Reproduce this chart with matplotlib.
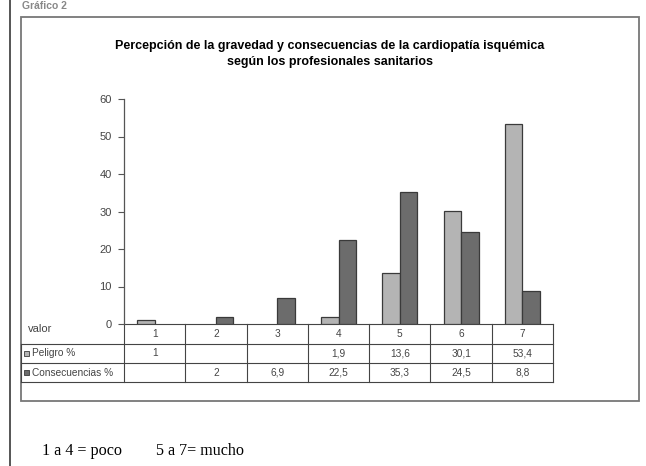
import numpy as np
import matplotlib
matplotlib.use("Agg")
import matplotlib.pyplot as plt
from matplotlib.patches import Rectangle

categorias = ["1", "2", "3", "4", "5", "6", "7"]
peligro = [1, None, None, 1.9, 13.6, 30.1, 53.4]
consecuencias = [None, 2, 6.9, 22.5, 35.3, 24.5, 8.8]
series_labels = ["Peligro %", "Consecuencias %"]
yticks = [0, 10, 20, 30, 40, 50, 60]

titulo = ("Percepción de la gravedad y consecuencias de la cardiopatía isquémica\n"
          "según los profesionales sanitarios")
nota_1 = "1 a 4 = poco"
nota_2 = "5 a 7= mucho"

COL_LIGHT = "#b4b4b4"
COL_DARK = "#6c6c6c"
EDGE = "#3a3a3a"
TXT = "#444444"

W, H = 646, 466
fig = plt.figure(figsize=(W / 100, H / 100), dpi=100)
fig.patch.set_facecolor("white")


def fx(px):
    return px / W


def fy(py):
    return 1 - py / H


# main axes: x 124..553, y (60 -> 99 px, 0 -> 324 px)
ax_l, ax_r, ax_t, ax_b = 124, 553, 99, 324
ax = fig.add_axes([fx(ax_l), fy(ax_b), fx(ax_r - ax_l), (ax_b - ax_t) / H])
ax.set_facecolor("none")

x = np.arange(len(categorias))
bw = 0.285
p_vals = np.array([np.nan if v is None else v for v in peligro], dtype=float)
c_vals = np.array([np.nan if v is None else v for v in consecuencias], dtype=float)
ax.bar(x - bw / 2, p_vals, bw, color=COL_LIGHT, edgecolor=EDGE, linewidth=0.9)
ax.bar(x + bw / 2, c_vals, bw, color=COL_DARK, edgecolor=EDGE, linewidth=0.9)

ax.set_xlim(-0.5, len(categorias) - 0.5)
ax.set_ylim(0, 60)
ax.set_yticks(yticks)
ax.set_yticklabels([str(t) for t in yticks], fontsize=8, color=TXT,
                   family="Liberation Sans")
ax.tick_params(axis="y", length=4, width=0.8, color="#555555", pad=5)
ax.set_xticks([])
for s in ["top", "right", "bottom"]:
    ax.spines[s].set_visible(False)
ax.spines["left"].set_color("#555555")
ax.spines["left"].set_linewidth(0.9)

# overlay in pixel coordinates for frame, table and notes
ov = fig.add_axes([0, 0, 1, 1])
ov.set_xlim(0, W)
ov.set_ylim(H, 0)
ov.axis("off")
ov.set_zorder(-1)

# outer page line and inner chart frame
ov.plot([9.5, 9.5], [0, H], color="#555555", lw=1.4)
ov.add_patch(Rectangle((21, 16.5), 618, 384.5, fill=False,
                       edgecolor="#777777", lw=1.3))
ov.text(22, 1, "Gráfico 2", fontsize=7.5, color="#888888", va="top",
        family="Liberation Sans", fontweight="bold")

ov.text(330, 54, titulo, ha="center", va="center", fontsize=9,
        fontweight="bold", family="Liberation Sans", linespacing=1.35)

# data table below the axis
ncol = len(categorias)
colw = (ax_r - ax_l) / ncol
row_y = [324, 343.5, 363, 382]
tbl_left = 21
line_kw = dict(color="#444444", lw=0.8)
ov.plot([ax_l, ax_r], [row_y[0], row_y[0]], **line_kw)
for yy in row_y[1:]:
    ov.plot([tbl_left, ax_r], [yy, yy], **line_kw)
for i in range(ncol + 1):
    xx = ax_l + i * colw
    ov.plot([xx, xx], [row_y[0], row_y[-1]], **line_kw)
ov.plot([tbl_left, tbl_left], [row_y[1], row_y[-1]], **line_kw)

fs_tbl = 7.3
ov.text(28, 329, "valor", fontsize=8, color=TXT, va="center",
        family="Liberation Sans")


def fmt(v):
    if v is None:
        return ""
    if float(v).is_integer():
        return str(int(v))
    return f"{v:.1f}".replace(".", ",")


for i, cat in enumerate(categorias):
    cx = ax_l + (i + 0.5) * colw
    ov.text(cx, (row_y[0] + row_y[1]) / 2, cat, ha="center", va="center",
            fontsize=fs_tbl, color=TXT, family="Liberation Sans")
    ov.text(cx, (row_y[1] + row_y[2]) / 2, fmt(peligro[i]), ha="center",
            va="center", fontsize=fs_tbl, color=TXT, family="Liberation Sans")
    ov.text(cx, (row_y[2] + row_y[3]) / 2, fmt(consecuencias[i]), ha="center",
            va="center", fontsize=fs_tbl, color=TXT, family="Liberation Sans")

for r, (lab, col) in enumerate(zip(series_labels, [COL_LIGHT, COL_DARK])):
    yc = (row_y[r + 1] + row_y[r + 2]) / 2
    ov.add_patch(Rectangle((24, yc - 2.5), 5, 5, facecolor=col,
                           edgecolor=EDGE, lw=0.6))
    ov.text(32, yc, lab, fontsize=fs_tbl, color=TXT, va="center",
            family="Liberation Sans")

# notes under the chart
ov.text(42, 451, nota_1, fontsize=11.6, family="Liberation Serif", va="center")
ov.text(156, 451, nota_2, fontsize=11.6, family="Liberation Serif", va="center")

fig.savefig("out.png", dpi=100)
